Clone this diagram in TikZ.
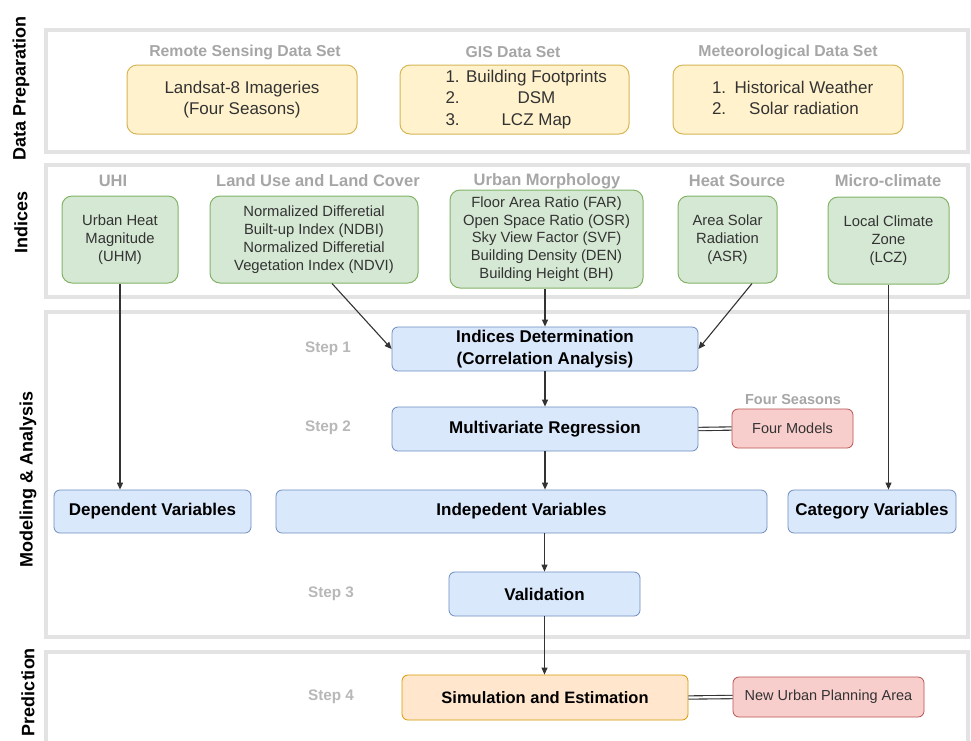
\documentclass[tikz,border=0pt]{standalone}
\usepackage{fontspec}
\setmainfont{Liberation Sans}
\usetikzlibrary{arrows.meta,calc}
\definecolor{panelc}{HTML}{E3E3E3}
\definecolor{hdr}{HTML}{A6A6A6}
\definecolor{stepc}{HTML}{B8B8B8}
\definecolor{txt}{HTML}{333333}
\definecolor{yfill}{HTML}{FFF2CC}\definecolor{ydraw}{HTML}{D6B656}
\definecolor{gfill}{HTML}{D5E8D4}\definecolor{gdraw}{HTML}{82B366}
\definecolor{bfill}{HTML}{DAE8FC}\definecolor{bdraw}{HTML}{6C8EBF}
\definecolor{rfill}{HTML}{F8CECC}\definecolor{rdraw}{HTML}{B85450}
\definecolor{ofill}{HTML}{FFE6CC}\definecolor{odraw}{HTML}{D79B00}
\newcommand{\fs}[2]{\fontsize{#1}{#2}\selectfont}
\tikzset{
  panel/.style={draw=panelc, line width=4pt, fill=white},
  side/.style={rotate=90, font=\fs{18}{21}\bfseries, text=black},
  tophdr/.style={font=\fs{15.8}{18}\bfseries, text=hdr},
  hdr/.style={font=\fs{16.5}{19}\bfseries, text=hdr},
  steplbl/.style={font=\fs{15.3}{18}\bfseries, text=stepc},
  ybox/.style={draw=ydraw, fill=yfill, line width=1pt, rounded corners=10pt, inner sep=0pt, align=center, text=txt, font=\fs{17}{21.5}},
  gbox/.style={draw=gdraw, fill=gfill, line width=1pt, rounded corners=10pt, inner sep=0pt, align=center, text=txt, font=\fs{14.8}{17.8}},
  bbox/.style={draw=bdraw, fill=bfill, line width=0.8pt, rounded corners=6pt, inner sep=0pt, align=center, text=black, font=\fs{17}{22}\bfseries},
  rbox/.style={draw=rdraw, fill=rfill, line width=0.8pt, rounded corners=6pt, inner sep=0pt, align=center, text=txt, font=\fs{14.5}{17}},
  obox/.style={draw=odraw, fill=ofill, line width=0.8pt, rounded corners=6pt, inner sep=0pt, align=center, text=black, font=\fs{16.5}{19}\bfseries},
  arr/.style={draw=txt, line width=1.1pt, -{Triangle[length=7pt,width=6pt]}},
  dbl/.style={draw=txt, double=white, double distance=2.2pt, line width=1.1pt}
}
\begin{document}
\begin{tikzpicture}[x=1pt,y=-1pt]
\useasboundingbox (0,0) rectangle (971,740);
\clip (0,0) rectangle (971,740);
\fill[white] (0,0) rectangle (971,740);
% panels
\draw[panel] (46,30) rectangle (968,152);
\draw[panel] (46,165) rectangle (968,297);
\draw[panel] (46,312) rectangle (968,637);
\draw[panel] (46,652) rectangle (968,770);
% side labels
\node[side] (sdp) at (21,88) {Data Preparation};
\node[side] (sind) at (21,222) {Indices};
\node[side] (smod) at (28,479) {Modeling \& Analysis};
\node[side] (spred) at (28,692) {Prediction};
% data preparation
\node[tophdr] (h1) at (245,52) {Remote Sensing Data Set};
\node[tophdr] (h2) at (513,52) {GIS Data Set};
\node[tophdr] (h3) at (788,52) {Meteorological Data Set};
\node[ybox, minimum width=230pt, minimum height=69pt] (landsat) at (242,99.5) {Landsat-8 Imageries\\(Four Seasons)};
\node[ybox, minimum width=229pt, minimum height=69pt] (gis) at (514.5,99.5) {\hspace*{26pt}\begin{tabular}{@{}l@{}}\makebox[18pt][l]{1.}\makebox[146pt][c]{Building Footprints}\\\makebox[18pt][l]{2.}\makebox[146pt][c]{DSM}\\\makebox[18pt][l]{3.}\makebox[146pt][c]{LCZ Map}\end{tabular}};
\node[ybox, minimum width=230pt, minimum height=69pt] (met) at (788,99.5) {\hspace*{18pt}\begin{tabular}{@{}l@{}}\makebox[14pt][l]{1.}\makebox[156pt][c]{Historical Weather}\\\makebox[14pt][l]{2.}\makebox[156pt][c]{Solar radiation}\end{tabular}};
% indices
\node[hdr] (hu) at (113,181) {UHI};
\node[hdr] (hl) at (318,181) {Land Use and Land Cover};
\node[hdr] (hm) at (547,181) {Urban Morphology};
\node[hdr] (hh) at (737,181) {Heat Source};
\node[hdr] (hc) at (888,181) {Micro-climate};
\node[gbox, minimum width=116pt, minimum height=87pt] (uhm) at (120,239.5) {Urban Heat\\Magnitude\\(UHM)};
\node[gbox, minimum width=208pt, minimum height=87pt] (lulc) at (314,239.5) {Normalized Differetial\\Built-up Index (NDBI)\\Normalized Differetial\\Vegetation Index (NDVI)};
\node[gbox, minimum width=193pt, minimum height=98pt] (um) at (546.5,239) {Floor Area Ratio (FAR)\\Open Space Ratio (OSR)\\Sky View Factor (SVF)\\Building Density (DEN)\\Building Height (BH)};
\node[gbox, minimum width=99pt, minimum height=87pt] (heat) at (727.5,239.5) {Area Solar\\Radiation\\(ASR)};
\node[gbox, minimum width=121pt, minimum height=87pt] (lcz) at (888.5,240.5) {Local Climate\\Zone\\(LCZ)};
% modeling
\node[steplbl] (s1) at (328,349) {Step 1};
\node[steplbl] (s2) at (328,428) {Step 2};
\node[steplbl] (s3) at (331,594) {Step 3};
\node[steplbl] (s4) at (331,697) {Step 4};
\node[bbox, minimum width=306pt, minimum height=44pt] (idet) at (545,349) {Indices Determination\\(Correlation Analysis)};
\node[bbox, minimum width=306pt, minimum height=44pt] (mvr) at (545,429) {Multivariate Regression};
\node[font=\fs{14.5}{17}\bfseries, text=hdr] (fs) at (793,399) {Four Seasons};
\node[rbox, minimum width=121pt, minimum height=39pt] (fm) at (792.5,428.5) {Four Models};
\node[bbox, minimum width=197pt, minimum height=43pt] (dep) at (152.5,511.5) {Dependent Variables};
\node[bbox, minimum width=491pt, minimum height=43pt] (indep) at (521.5,511.5) {Indepedent Variables};
\node[bbox, minimum width=168pt, minimum height=43pt] (cat) at (872,511.5) {Category Variables};
\node[bbox, minimum width=191pt, minimum height=44pt] (val) at (544.5,594) {Validation};
% prediction
\node[obox, minimum width=286pt, minimum height=45pt] (sim) at (545,697.5) {Simulation and Estimation};
\node[rbox, minimum width=191pt, minimum height=40pt] (nupa) at (828.5,697) {New Urban Planning Area};
% connectors
\draw[arr] (uhm.south) -- (uhm.south |- dep.north);
\draw[arr] ([xshift=18pt]lulc.south) -- (idet.west);
\draw[arr] (idet.north |- um.south) -- (idet.north);
\draw[arr] ([xshift=24.5pt]heat.south) -- (idet.east);
\draw[arr] (lcz.south) -- (lcz.south |- cat.north);
\draw[arr] (idet.south) -- (mvr.north);
\draw[arr] (mvr.south) -- (mvr.south |- indep.north);
\draw[arr] (val.north |- indep.south) -- (val.north);
\draw[arr] (val.south) -- (val.south |- sim.north);
\draw[dbl] (mvr.east) -- (fm.west);
\draw[dbl] (sim.east) -- (nupa.west);
\end{tikzpicture}
\end{document}
